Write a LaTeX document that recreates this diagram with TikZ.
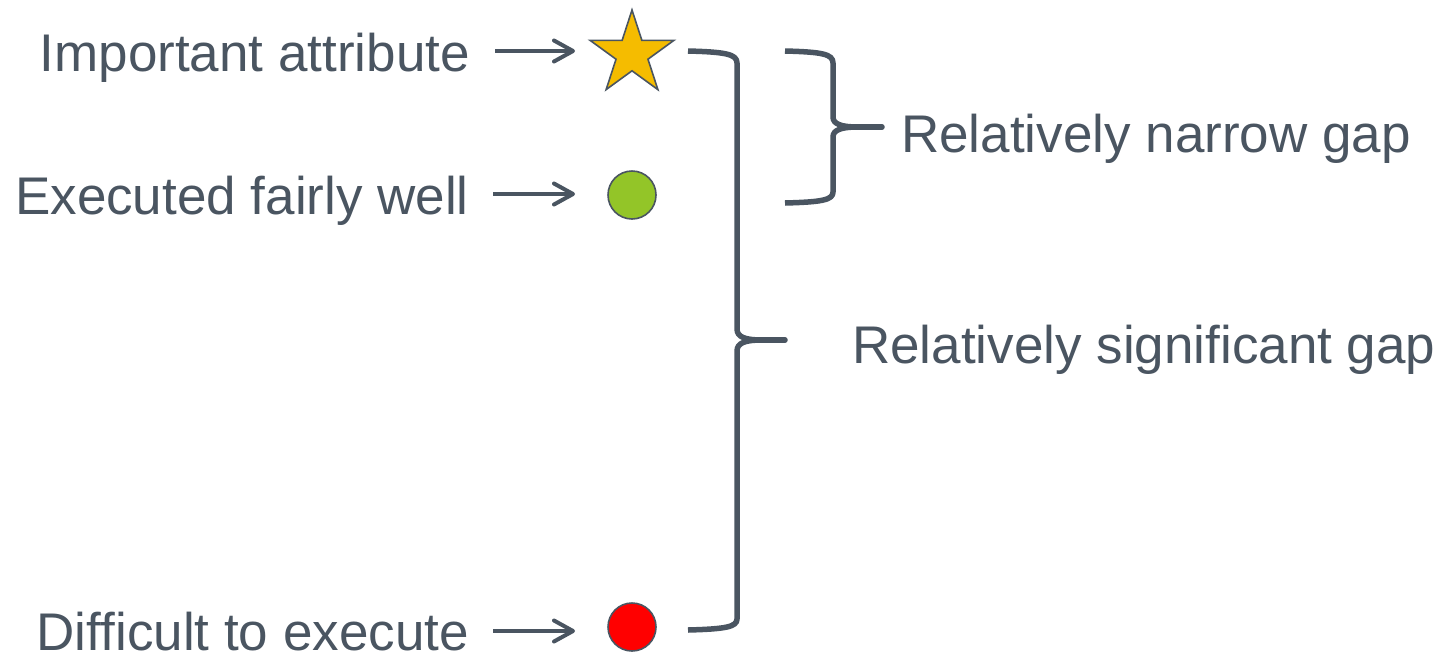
\documentclass[tikz,border=0pt]{standalone}
\usepackage{fontspec}
\setmainfont{Liberation Sans}
\usetikzlibrary{arrows.meta}
\definecolor{ink}{HTML}{4A5561}
\definecolor{starfill}{HTML}{F5BC00}
\definecolor{greenfill}{HTML}{93C528}
\definecolor{redfill}{HTML}{FF0000}
\tikzset{
  lbl/.style={text=ink, inner sep=0pt, font=\fontsize{53}{60}\selectfont},
  arr/.style={draw=ink, line width=3.6pt, -{Straight Barb[length=19pt,width=21pt,line width=4pt,line cap=round,line join=round]}},
  brace/.style={draw=ink, line width=5.5pt, line cap=butt, line join=round},
  tipline/.style={draw=ink, line width=5.5pt, line cap=round},
  dot/.style={circle, draw=ink, line width=1.6pt, minimum size=48pt, inner sep=0pt},
  starline/.style={draw=ink, line width=1.6pt, line join=miter, fill=starfill}
}
\begin{document}
\begin{tikzpicture}[x=1pt,y=-1pt]
\useasboundingbox (0,0) rectangle (1456,654);
% labels
\node[lbl, anchor=base east] (t1) at (470,71) {Important attribute};
\node[lbl, anchor=base east] (t2) at (469,214) {Executed fairly well};
\node[lbl, anchor=base east] (t3) at (469,650) {Difficult to execute};
\node[lbl, anchor=base west] (t4) at (901,152) {Relatively narrow gap};
\node[lbl, anchor=base west] (t5) at (852,363) {Relatively significant gap};
% star
\coordinate (star) at (632,54);
\draw[starline, shift={(star)}] (-90:44) -- (-54:16.8) -- (-18:44) -- (18:16.8) -- (54:44) -- (90:16.8) -- (126:44) -- (162:16.8) -- (198:44) -- (234:16.8) -- cycle;
% dots
\node[dot, fill=greenfill] (g) at (632,195) {};
\node[dot, fill=redfill] (r) at (632,627) {};
% arrow ends
\coordinate (a1) at (575,51);
\coordinate (a2) at (575,194);
\coordinate (a3) at (575,631);
\draw[arr] ([xshift=25pt]t1.east |- a1) -- (a1);
\draw[arr] ([xshift=24pt]t2.east |- a2) -- (a2);
\draw[arr] ([xshift=24pt]t3.east |- a3) -- (a3);
% big bracket
\coordinate (bt) at (688,51);
\coordinate (bb) at (688,630);
\coordinate (btip) at (785,340);
\draw[brace] (bt) .. controls (725,52) and (737,54) .. (737,63) -- (737,329)
  .. controls (737,337) and (745,340) .. (762,340);
\draw[brace] (762,340) .. controls (745,340) and (737,343) .. (737,351) -- (737,619)
  .. controls (737,627) and (725,629) .. (bb);
\draw[tipline] (760,340) -- (btip);
% small brace
\coordinate (st) at (785,51);
\coordinate (sb) at (785,203);
\coordinate (stip) at (882,127);
\draw[brace] (st) .. controls (822,52) and (833,54) .. (833,63) -- (833,117)
  .. controls (833,124) and (841,127) .. (858,127);
\draw[brace] (858,127) .. controls (841,127) and (833,130) .. (833,137) -- (833,192)
  .. controls (833,200) and (822,202) .. (sb);
\draw[tipline] (856,127) -- (stip);
\end{tikzpicture}
\end{document}
